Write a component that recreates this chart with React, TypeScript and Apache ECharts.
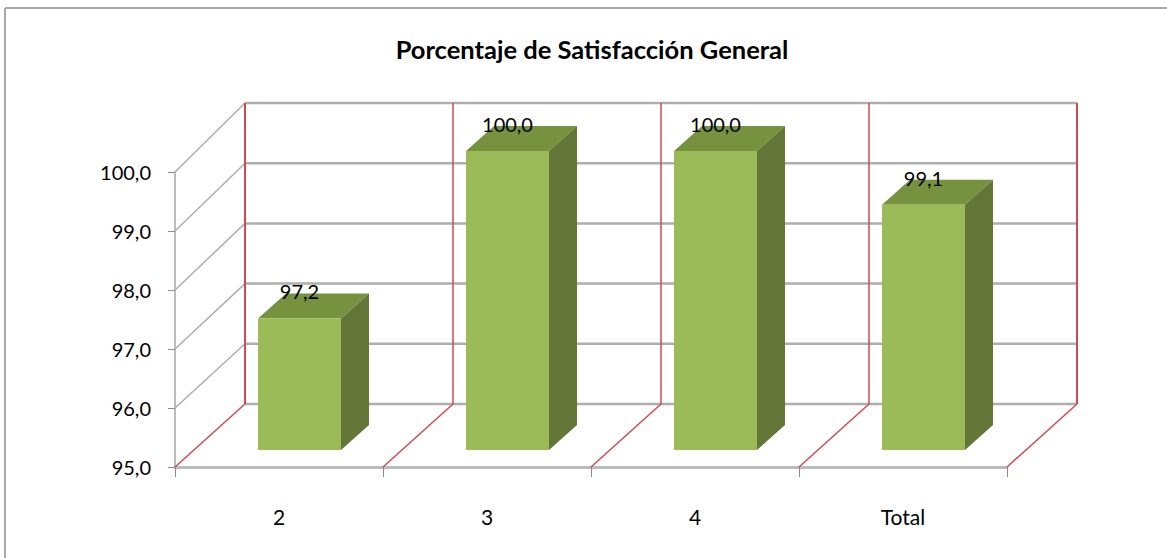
import React, { useEffect, useRef } from "react";
import * as echarts from "echarts";

const titleText = "Porcentaje de Satisfacción General";
const categories = ["2", "3", "4", "Total"];
const values = [97.2, 100.0, 100.0, 99.1];
const yTicks = [95, 96, 97, 98, 99, 100];
const yMin = 95;
const yMax = 100;

const FONT = "Lato, 'Noto Sans', sans-serif";
const GRAY = "#aeaeae";
const RED = "#d8474e";
const FRONT = "#9bbb59";
const TOP = "#76923f";
const SIDE = "#637537";

const fmt = (v: number) => v.toFixed(1).replace(".", ",");

export default function App() {
  const ref = useRef<HTMLDivElement>(null);

  useEffect(() => {
    document.body.style.margin = "0";
    const chart = echarts.init(ref.current!, undefined, { renderer: "svg" });

    const DX = 70; // depth of the floor in x
    const backY = (fy: number, y0: number, unit: number) => 404 - ((y0 - fy) * 60.2) / unit;

    const option: any = {
      animation: false,
      backgroundColor: "#ffffff",
      title: {
        text: titleText,
        left: 587,
        top: 31,
        textAlign: "center",
        textStyle: { fontFamily: FONT, fontWeight: "bold", fontSize: 25.5, color: "#000" },
      },
      grid: { left: 175, right: 160, top: 172, bottom: 91 },
      xAxis: {
        type: "category",
        data: categories,
        boundaryGap: true,
        axisLine: { show: true, lineStyle: { color: "#bcbcbc", width: 3 } },
        axisTick: { show: true, length: 10, alignWithLabel: false, lineStyle: { color: "#8c8c8c", width: 1 } },
        axisLabel: { margin: 39, fontFamily: FONT, fontSize: 21, color: "#000" },
        splitLine: { show: false },
      },
      yAxis: {
        type: "value",
        min: yMin,
        max: yMax,
        interval: 1,
        axisLine: { show: true, lineStyle: { color: "#bcbcbc", width: 2 } },
        axisTick: { show: true, length: 7, lineStyle: { color: "#8c8c8c", width: 1 } },
        axisLabel: { margin: 24, fontFamily: FONT, fontSize: 20, color: "#000", formatter: (v: number) => fmt(v) },
        splitLine: { show: false },
      },
      graphic: [
        { type: "line", silent: true, z: 0, shape: { x1: 5, y1: 8, x2: 1167, y2: 8 }, style: { stroke: "#a8a8a8", lineWidth: 2 } },
        { type: "line", silent: true, z: 0, shape: { x1: 5, y1: 8, x2: 5, y2: 558 }, style: { stroke: "#a8a8a8", lineWidth: 2 } },
      ],
      series: [
        {
          type: "custom",
          coordinateSystem: "cartesian2d",
          silent: true,
          z: 1,
          data: [[categories[0], yMin]],
          renderItem: (params: any, api: any) => {
            const cs = params.coordSys;
            const band = cs.width / categories.length;
            const y0 = api.coord([categories[0], yMin])[1];
            const unit = y0 - api.coord([categories[0], yMin + 1])[1];
            const children: any[] = [];
            yTicks.forEach((t) => {
              const fy = api.coord([categories[0], t])[1];
              const by = backY(fy, y0, unit);
              if (t !== yMin) {
                children.push({
                  type: "line",
                  shape: { x1: cs.x, y1: fy, x2: cs.x + DX, y2: by },
                  style: { stroke: GRAY, lineWidth: 1.5 },
                });
              }
              children.push({
                type: "line",
                shape: { x1: cs.x + DX, y1: by, x2: cs.x + cs.width + DX, y2: by },
                style: { stroke: GRAY, lineWidth: 2.5 },
              });
            });
            const topY = backY(api.coord([categories[0], yMax])[1], y0, unit);
            for (let i = 0; i <= categories.length; i++) {
              const x = cs.x + i * band;
              children.push({
                type: "line",
                shape: { x1: x, y1: y0, x2: x + DX, y2: backY(y0, y0, unit) },
                style: { stroke: RED, lineWidth: 1.5 },
              });
              children.push({
                type: "line",
                shape: { x1: x + DX, y1: backY(y0, y0, unit), x2: x + DX, y2: topY },
                style: { stroke: RED, lineWidth: i === 0 || i === categories.length ? 2 : 1.5 },
              });
            }
            return { type: "group", children };
          },
        },
        {
          type: "custom",
          coordinateSystem: "cartesian2d",
          silent: true,
          z: 2,
          encode: { x: 0, y: 1 },
          data: categories.map((c, i) => [c, values[i]]),
          renderItem: (_params: any, api: any) => {
            const val = api.value(1) as number;
            const idx = api.value(0) as number;
            const c = api.coord([idx, val]);
            const y0 = api.coord([idx, yMin])[1];
            const yT = api.coord([idx, yMax])[1];
            const xL = c[0] - 21;
            const xR = c[0] + 62;
            const bottom = y0 - 17;
            const top = bottom - ((y0 - c[1]) * 299) / (y0 - yT);
            const dx = 28;
            const dy = 25;
            return {
              type: "group",
              children: [
                {
                  type: "polygon",
                  shape: { points: [[xL, top], [xR, top], [xR + dx, top - dy], [xL + dx, top - dy]] },
                  style: { fill: TOP },
                },
                {
                  type: "polygon",
                  shape: { points: [[xR, top], [xR + dx, top - dy], [xR + dx, bottom - dy], [xR, bottom]] },
                  style: { fill: SIDE },
                },
                {
                  type: "rect",
                  shape: { x: xL, y: top, width: xR - xL, height: bottom - top },
                  style: { fill: FRONT },
                },
                {
                  type: "text",
                  x: (xL + xR) / 2,
                  y: top - 27,
                  style: {
                    text: fmt(val),
                    fontFamily: FONT,
                    fontSize: 20,
                    fill: "#000",
                    align: "center",
                    verticalAlign: "middle",
                  },
                },
              ],
            };
          },
        },
      ],
    };

    chart.setOption(option);
    return () => chart.dispose();
  }, []);

  return <div ref={ref} style={{ width: 1167, height: 558 }} />;
}
